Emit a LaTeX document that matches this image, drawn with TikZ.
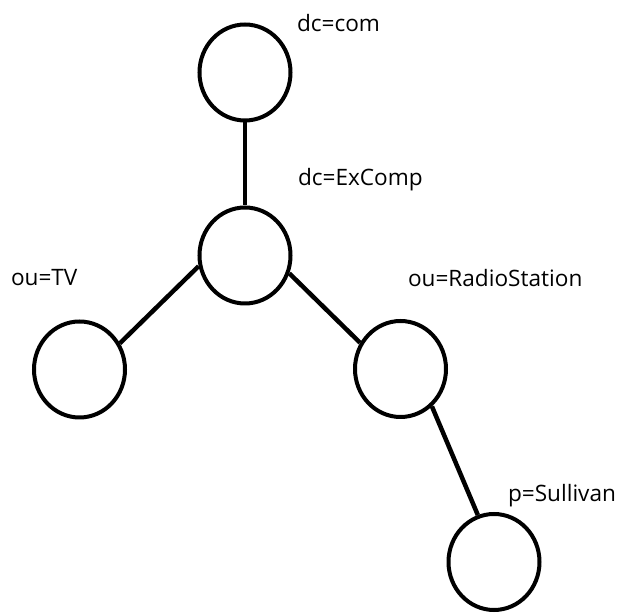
\documentclass[tikz,border=0pt]{standalone}
\usepackage{fontspec}
\setmainfont{Open Sans}
\usetikzlibrary{shapes.geometric}

\begin{document}
\begin{tikzpicture}[x=1pt, y=1pt, line width=4pt,
    entry/.style={ellipse, draw, minimum width=91pt, minimum height=96pt, inner sep=0pt},
    link/.style={line width=4.5pt},
    dn/.style={anchor=base west, inner sep=0pt, font=\fontsize{22.6}{27}\selectfont}]
  \useasboundingbox (0,0) rectangle (619,613);
  % directory entries
  \foreach \n/\x/\y in {com/245/540.5, excomp/245/357.5, tv/79.5/243.5, radio/400.5/244, sullivan/494/51} {
    \node[entry] (\n) at (\x,\y) {};
  }
  % distinguished names
  \foreach \n/\x/\y/\lab in {com/295/581/{dc=com}, excomp/296/427.5/{dc=ExComp}, tv/9/327/{ou=TV},
      radio/406/326/{ou=RadioStation}, sullivan/506/111/{p=Sullivan}} {
    \node[dn] (\n-dn) at (\x,\y) {\lab};
  }
  \draw[link] (com) -- (excomp);
  \draw[link] (excomp.193.7) -- (tv.33);
  \draw[link] (excomp.338) -- (radio.147);
  \draw[link] (radio.310.5) -- (sullivan.109);
\end{tikzpicture}
\end{document}
